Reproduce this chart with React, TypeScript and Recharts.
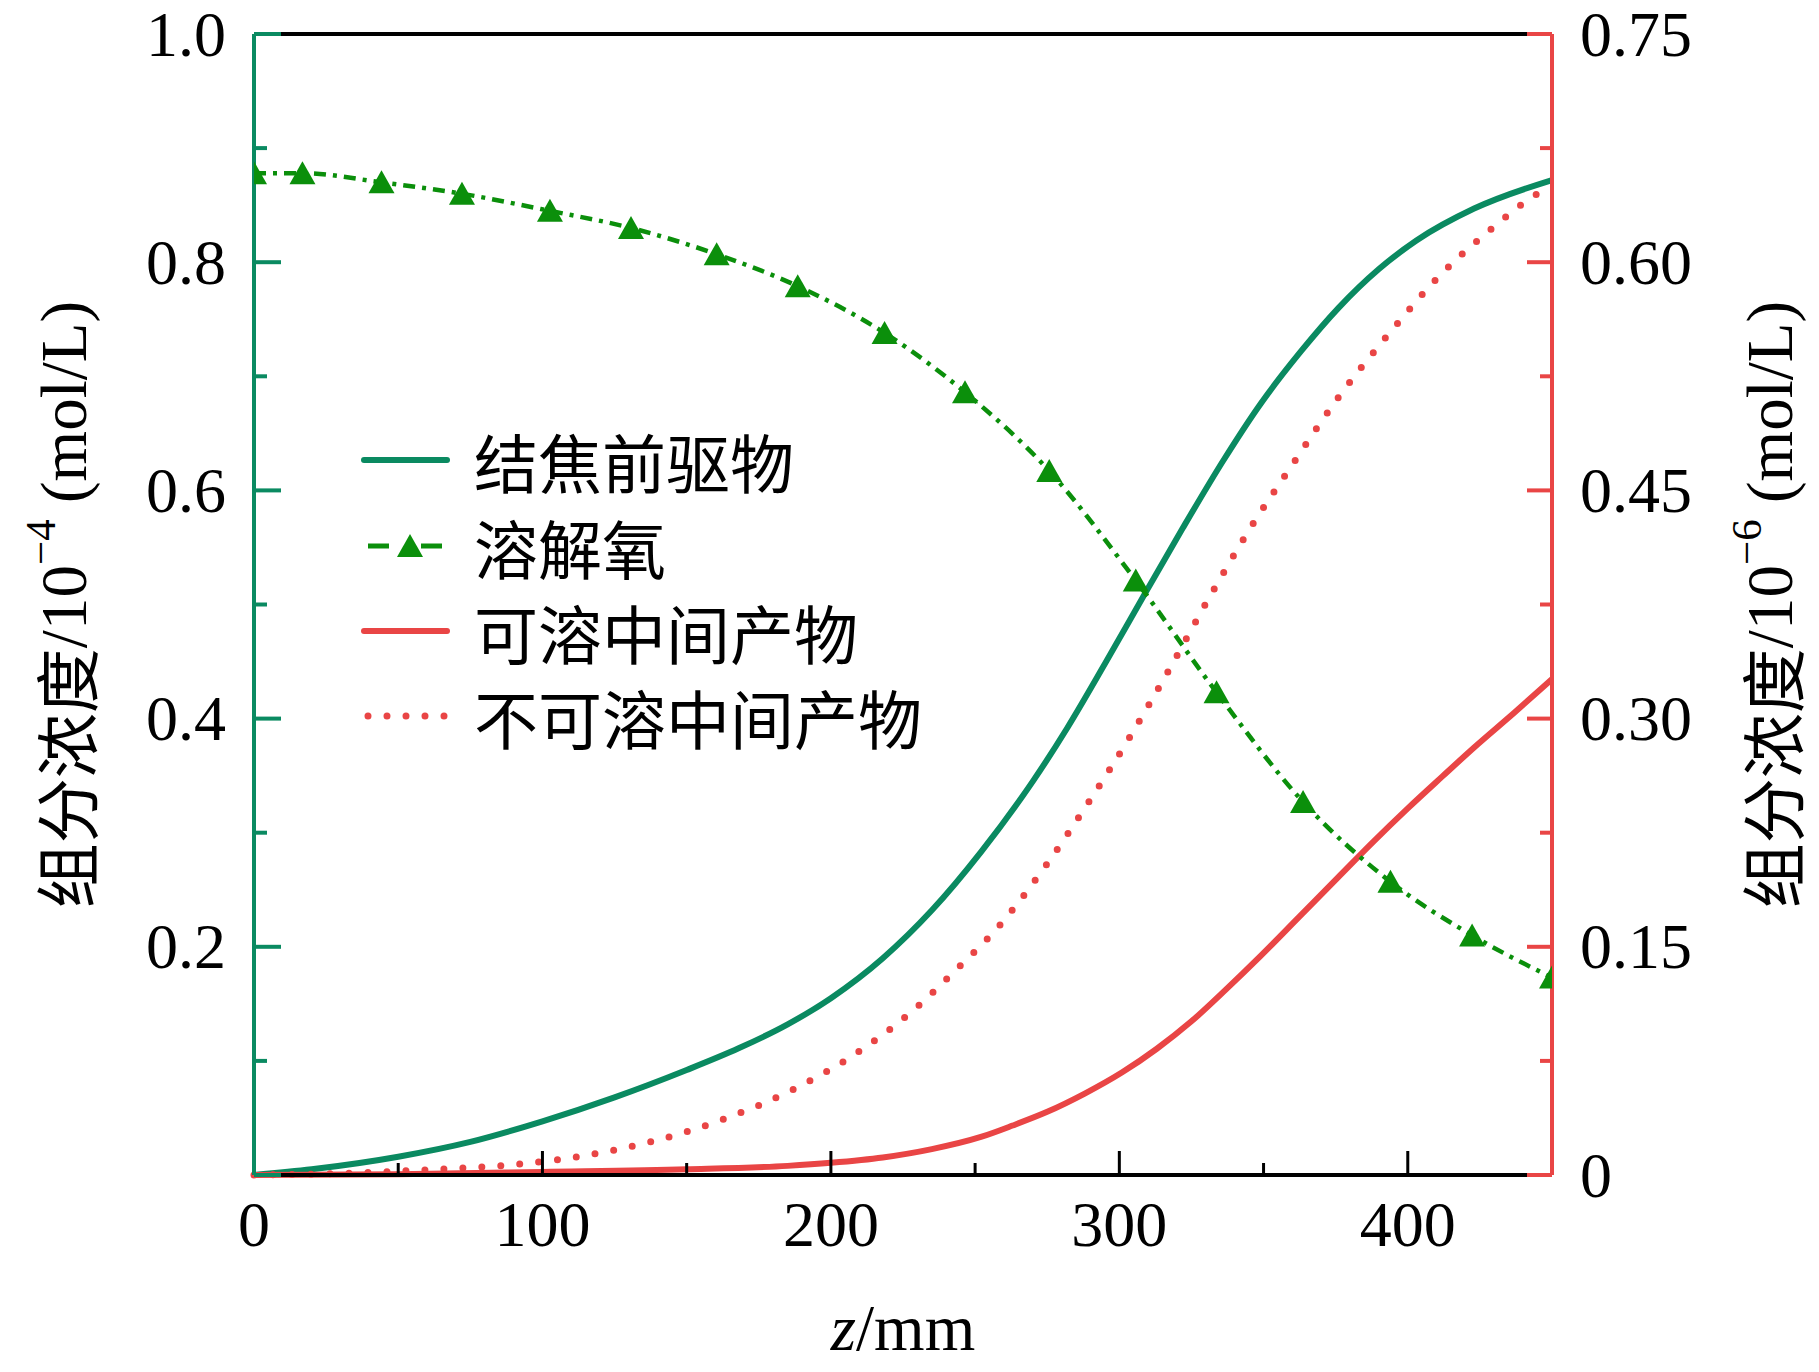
import { LineChart, Line, XAxis, YAxis, Legend, ReferenceLine } from "recharts";

const SERIF = "'Liberation Serif', 'Times New Roman', 'Noto Sans CJK SC', serif";
const CJK = "'Noto Sans CJK SC', 'Liberation Serif', sans-serif";

const GREEN = "#0a8a61";
const OXY = "#0b8f0b";
const RED = "#e94545";

// 结焦前驱物 (left axis, 10^-4 mol/L)
const precursorZ = [0, 20, 50, 75, 100, 125, 150, 168, 185, 200, 218, 235, 252, 270, 282, 295, 309, 322, 336, 349, 363, 376, 390, 403, 423, 450];
const precursorC = [0, 0.005, 0.016, 0.029, 0.047, 0.068, 0.092, 0.111, 0.132, 0.155, 0.19, 0.232, 0.283, 0.345, 0.392, 0.448, 0.51, 0.567, 0.626, 0.676, 0.722, 0.76, 0.794, 0.819, 0.847, 0.872];

// 溶解氧 (left axis), a marker on every point; the end ones are cut by the frame
const oxygenZ = [0, 16.8, 44.2, 72.1, 102.6, 130.7, 160.4, 188.5, 218.6, 246.5, 275.7, 305.7, 333.7, 363.7, 394, 422.3, 450];
const oxygenC = [0.878, 0.878, 0.87, 0.86, 0.845, 0.83, 0.807, 0.779, 0.738, 0.686, 0.617, 0.521, 0.423, 0.327, 0.257, 0.21, 0.173];

// 可溶中间产物 (right axis, 10^-6 mol/L)
const solubleZ = [0, 50, 100, 150, 185, 200, 218, 235, 252, 263, 275, 288, 301, 313, 325, 337, 349, 362, 376, 388, 400, 412, 423, 437, 450];
const solubleC = [0, 0.0005, 0.002, 0.0037, 0.006, 0.008, 0.0115, 0.017, 0.025, 0.0325, 0.0415, 0.0535, 0.0675, 0.083, 0.101, 0.122, 0.144, 0.169, 0.196, 0.219, 0.241, 0.262, 0.281, 0.304, 0.326];

// 不可溶中间产物 (right axis)
const insolubleZ = [0, 30, 63, 89, 114, 139, 163, 187, 208, 229, 244, 258, 274, 289, 304, 317.5, 331, 345, 360, 375.5, 392.6, 410.5, 429.7, 445, 450];
const insolubleC = [0, 0.001, 0.0037, 0.0066, 0.0125, 0.0225, 0.0368, 0.0563, 0.079, 0.109, 0.136, 0.163, 0.202, 0.244, 0.289, 0.333, 0.379, 0.424, 0.467, 0.51, 0.551, 0.59, 0.623, 0.645, 0.65];

const xTicks = [0, 50, 100, 150, 200, 250, 300, 350, 400, 450];
const xLabels = ["0", "100", "200", "300", "400"];
const leftTicks = [0, 0.1, 0.2, 0.3, 0.4, 0.5, 0.6, 0.7, 0.8, 0.9, 1.0];
const rightTicks = [0, 0.075, 0.15, 0.225, 0.3, 0.375, 0.45, 0.525, 0.6, 0.675, 0.75];
const rightLabels = ["0", "0.15", "0.30", "0.45", "0.60", "0.75"];

const legendNames = ["结焦前驱物", "溶解氧", "可溶中间产物", "不可溶中间产物"];

const rows = (zs: number[], vs: number[]) => zs.map((z, i) => ({ z, v: vs[i] }));
const precursorData = rows(precursorZ, precursorC);
const oxygenData = rows(oxygenZ, oxygenC);
const solubleData = rows(solubleZ, solubleC);
const insolubleData = rows(insolubleZ, insolubleC);

const W = 1803;
const H = 1356;
const PLOT_LEFT = 246;
const PLOT_RIGHT = 1544;
const PLOT_TOP = 26;
const PLOT_BOTTOM = 1167;
const MID_Y = (PLOT_TOP + PLOT_BOTTOM) / 2;

const LeftTick = (props: any) => {
  const { x, y, payload } = props;
  const step = Math.round(payload.value * 10);
  const major = step % 2 === 0;
  return (
    <g>
      <line x1={x} x2={x + (major ? 27 : 13)} y1={y} y2={y} stroke={GREEN} strokeWidth={4} />
      {major && step > 0 && (
        <text x={x - 28} y={y} textAnchor="end" dominantBaseline="central" fontFamily={SERIF} fontSize={64} fill="#000">
          {payload.value.toFixed(1)}
        </text>
      )}
    </g>
  );
};

const RightTick = (props: any) => {
  const { x, y, payload } = props;
  const step = Math.round(payload.value / 0.075);
  const major = step % 2 === 0;
  return (
    <g>
      <line x1={x} x2={x - (major ? 25 : 12)} y1={y} y2={y} stroke={RED} strokeWidth={4} />
      {major && (
        <text x={x + 28} y={y} textAnchor="start" dominantBaseline="central" fontFamily={SERIF} fontSize={64} fill="#000">
          {rightLabels[step / 2]}
        </text>
      )}
    </g>
  );
};

const BottomTick = (props: any) => {
  const { x, y, payload } = props;
  const step = Math.round(payload.value / 50);
  const major = step % 2 === 0;
  return (
    <g>
      {step > 0 && step < 9 && (
        <line x1={x} x2={x} y1={y} y2={y - (major ? 24 : 12)} stroke="#000" strokeWidth={3} />
      )}
      {major && (
        <text x={x} y={y + 71} textAnchor="middle" fontFamily={SERIF} fontSize={64} fill="#000">
          {xLabels[step / 2]}
        </text>
      )}
    </g>
  );
};

// triangles; the first and last only show the half inside the frame
const Triangle = (props: any) => {
  const { cx, cy, index } = props;
  if (cx == null) return <g key={`t${index}`} />;
  const last = index === oxygenZ.length - 1;
  const left = index === 0 ? cx : cx - 13;
  const right = last ? cx : cx + 13;
  const pts = `${cx},${cy - 12} ${right},${cy + 11} ${left},${cy + 11}`;
  return <polygon key={`t${index}`} points={pts} fill={OXY} />;
};

const AxisTitle = ({ px, exp }: { px: number; exp: string }) => (
  <text
    x={px}
    y={MID_Y}
    transform={`rotate(-90 ${px} ${MID_Y})`}
    textAnchor="middle"
    dominantBaseline="central"
    fontFamily={SERIF}
    fontSize={65}
    fill="#000"
  >
    <tspan fontFamily={CJK}>组分浓度</tspan>
    <tspan>/10</tspan>
    <tspan dy={-24} fontSize={43}>{exp}</tspan>
    <tspan dy={24}> (mol/L)</tspan>
  </text>
);

const XTitle = () => (
  <text x={(PLOT_LEFT + PLOT_RIGHT) / 2} y={1342} textAnchor="middle" fontFamily={SERIF} fontSize={65} fill="#000">
    <tspan style={{ fontStyle: "italic" }}>z</tspan>
    <tspan>/mm</tspan>
  </text>
);

const LegendBox = () => {
  const rowY = [47, 133, 218, 303];
  return (
    <svg width={620} height={350} style={{ display: "block" }}>
      <line x1={6} x2={89} y1={rowY[0]} y2={rowY[0]} stroke={GREEN} strokeWidth={6} strokeLinecap="round" />
      <line x1={10} x2={31} y1={rowY[1]} y2={rowY[1]} stroke={OXY} strokeWidth={5} />
      <line x1={63} x2={84} y1={rowY[1]} y2={rowY[1]} stroke={OXY} strokeWidth={5} />
      <polygon points={`52,${rowY[1] - 12} 65,${rowY[1] + 11} 39,${rowY[1] + 11}`} fill={OXY} />
      <line x1={6} x2={89} y1={rowY[2]} y2={rowY[2]} stroke={RED} strokeWidth={6} strokeLinecap="round" />
      <line x1={10} x2={87} y1={rowY[3]} y2={rowY[3]} stroke={RED} strokeWidth={7} strokeLinecap="round" strokeDasharray="0 19" />
      {legendNames.map((name, i) => (
        <text key={name} x={116} y={rowY[i]} dominantBaseline="central" fontFamily={CJK} fontSize={64} fill="#000">
          {name}
        </text>
      ))}
    </svg>
  );
};

export default function App() {
  return (
    <div style={{ width: W, height: H }}>
      <LineChart width={W} height={H} margin={{ top: 26, right: 109, bottom: 89, left: 96 }}>
        <XAxis
          dataKey="z"
          type="number"
          domain={[0, 450]}
          ticks={xTicks}
          interval={0}
          tickSize={0}
          tickMargin={0}
          tickLine={false}
          tick={<BottomTick />}
          axisLine={{ stroke: "#000", strokeWidth: 4 }}
          height={100}
          label={<XTitle />}
          allowDuplicatedCategory={false}
        />
        <YAxis
          yAxisId="left"
          orientation="left"
          type="number"
          domain={[0, 1]}
          ticks={leftTicks}
          interval={0}
          tickSize={0}
          tickMargin={0}
          tickLine={false}
          tick={<LeftTick />}
          axisLine={{ stroke: GREEN, strokeWidth: 4 }}
          width={150}
          label={<AxisTitle px={56} exp="−4" />}
        />
        <YAxis
          yAxisId="right"
          orientation="right"
          type="number"
          domain={[0, 0.75]}
          ticks={rightTicks}
          interval={0}
          tickSize={0}
          tickMargin={0}
          tickLine={false}
          tick={<RightTick />}
          axisLine={{ stroke: RED, strokeWidth: 4 }}
          width={150}
          label={<AxisTitle px={1762} exp="−6" />}
        />
        <ReferenceLine yAxisId="left" y={1} stroke="#000" strokeWidth={4} ifOverflow="visible" />
        <Legend
          layout="vertical"
          align="center"
          verticalAlign="middle"
          content={() => <LegendBox />}
          wrapperStyle={{ position: "absolute", left: 350, top: 405, width: 620, height: 350 }}
        />
        <Line
          yAxisId="left"
          data={precursorData}
          dataKey="v"
          name={legendNames[0]}
          type="monotone"
          stroke={GREEN}
          strokeWidth={6}
          dot={false}
          activeDot={false}
          isAnimationActive={false}
        />
        <Line
          yAxisId="right"
          data={insolubleData}
          dataKey="v"
          name={legendNames[3]}
          type="monotone"
          stroke={RED}
          strokeWidth={7}
          strokeLinecap="round"
          strokeDasharray="0 19"
          dot={false}
          activeDot={false}
          isAnimationActive={false}
        />
        <Line
          yAxisId="right"
          data={solubleData}
          dataKey="v"
          name={legendNames[2]}
          type="monotone"
          stroke={RED}
          strokeWidth={6}
          dot={false}
          activeDot={false}
          isAnimationActive={false}
        />
        <Line
          yAxisId="left"
          data={oxygenData}
          dataKey="v"
          name={legendNames[1]}
          type="monotone"
          stroke={OXY}
          strokeWidth={4.5}
          strokeDasharray="12 7 4 7"
          dot={<Triangle />}
          activeDot={false}
          isAnimationActive={false}
        />
      </LineChart>
    </div>
  );
}
